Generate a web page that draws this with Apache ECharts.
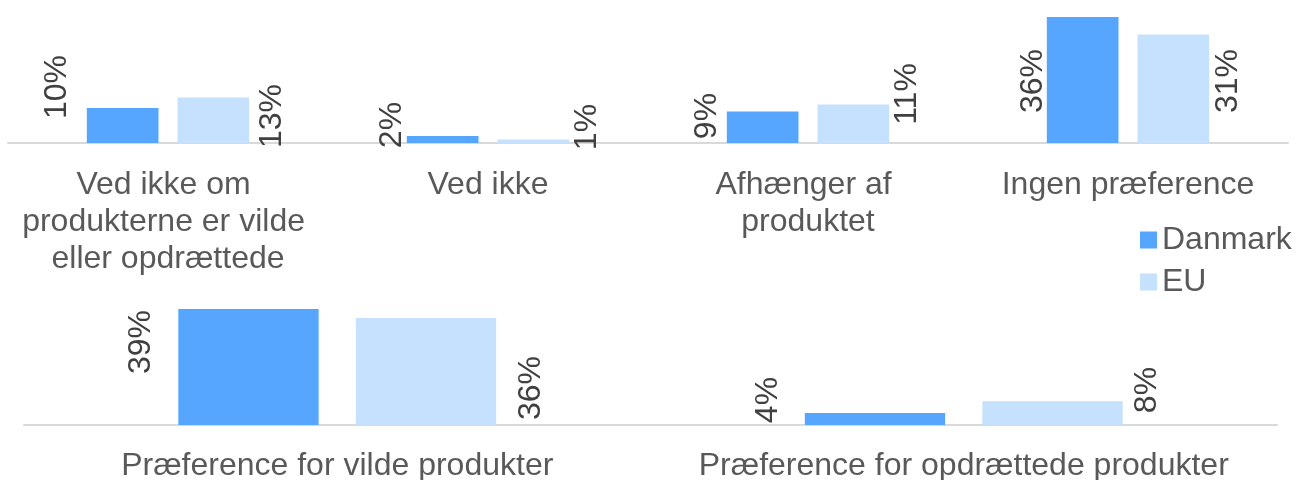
<!DOCTYPE html>
<html>
<head>
<meta charset="utf-8">
<script src="https://cdn.jsdelivr.net/npm/echarts@6/dist/echarts.min.js"></script>
<style>
html,body{margin:0;padding:0;background:#fff;}
#chart{width:1296px;height:480px;}
</style>
</head>
<body>
<div id="chart"></div>
<script>
// ---- data ----
const seriesNames = ['Danmark', 'EU'];
const topCategories = ['Ved ikke om produkterne er vilde eller opdrættede', 'Ved ikke', 'Afhænger af produktet', 'Ingen præference'];
const topDanmark = [10, 2, 9, 36];
const topEU = [13, 1, 11, 31];
const bottomCategories = ['Præference for vilde produkter', 'Præference for opdrættede produkter'];
const bottomDanmark = [39, 4];
const bottomEU = [36, 8];

// ---- styling (label placement, px) ----
const FONT = '"Liberation Sans", Arial, sans-serif';
const colDK = '#56A6FF';
const colEU = '#C5E1FD';
const topPPU = 140 / 40, botPPU = 119 / 40;
const lblTopDK = {dx: [-30, -15, -20, -14], lift: [56, 18, 27, 62]};
const lblTopEU = {dx: [95, 90, 90, 91], lift: [27, 16, 49, 62]};
const lblBotDK = {dx: [-37.5, -36.5], lift: [83, 25]};
const lblBotEU = {dx: [175.5, 164.5], lift: [37, 35]};

function items(values, ppu, lbl) {
  return values.map((v, i) => ({
    value: v,
    label: {
      position: [lbl.dx[i], v * ppu - lbl.lift[i]]
    }
  }));
}

const labelBase = {
  show: true,
  rotate: 90,
  align: 'center',
  verticalAlign: 'middle',
  fontSize: 32,
  fontFamily: FONT,
  color: '#404040',
  formatter: '{c}%'
};

const chart = echarts.init(document.getElementById('chart'), null, {renderer: 'canvas'});
const option = {
  animation: false,
  backgroundColor: '#fff',
  legend: {
    data: seriesNames,
    orient: 'vertical',
    left: 1140,
    top: 224,
    padding: 0,
    itemWidth: 17,
    itemHeight: 17,
    itemGap: 10,
    icon: 'rect',
    textStyle: {fontSize: 32, fontFamily: FONT, color: '#595959', lineHeight: 32}
  },
  grid: [
    {left: 8, right: 8, top: 3, height: 140, containLabel: false, outerBoundsMode: 'none'},
    {left: 24, right: 19, top: 306, height: 119, containLabel: false, outerBoundsMode: 'none'}
  ],
  xAxis: [
    {
      type: 'category', gridIndex: 0, data: topCategories,
      axisLine: {lineStyle: {color: '#D9D9D9', width: 2}},
      axisTick: {show: false},
      axisLabel: {fontSize: 32, fontFamily: FONT, color: '#595959', margin: 24, lineHeight: 37,
        width: 300, overflow: 'break', interval: 0}
    },
    {
      type: 'category', gridIndex: 1, data: bottomCategories,
      axisLine: {lineStyle: {color: '#D9D9D9', width: 2}},
      axisTick: {show: false},
      axisLabel: {fontSize: 32, fontFamily: FONT, color: '#595959', margin: 23, lineHeight: 37, interval: 0}
    }
  ],
  yAxis: [
    {type: 'value', gridIndex: 0, min: 0, max: 40, show: false, splitLine: {show: false}},
    {type: 'value', gridIndex: 1, min: 0, max: 40, show: false, splitLine: {show: false}}
  ],
  series: [
    {name: 'Danmark', type: 'bar', xAxisIndex: 0, yAxisIndex: 0, data: items(topDanmark, topPPU, lblTopDK),
      barWidth: '22.4%', barGap: '26.5%', itemStyle: {color: colDK}, label: labelBase},
    {name: 'EU', type: 'bar', xAxisIndex: 0, yAxisIndex: 0, data: items(topEU, topPPU, lblTopEU),
      barWidth: '22.4%', barGap: '26.5%', itemStyle: {color: colEU}, label: labelBase},
    {name: 'Danmark', type: 'bar', xAxisIndex: 1, yAxisIndex: 1, data: items(bottomDanmark, botPPU, lblBotDK),
      barWidth: '22.4%', barGap: '26.5%', itemStyle: {color: colDK}, label: labelBase},
    {name: 'EU', type: 'bar', xAxisIndex: 1, yAxisIndex: 1, data: items(bottomEU, botPPU, lblBotEU),
      barWidth: '22.4%', barGap: '26.5%', itemStyle: {color: colEU}, label: labelBase}
  ]
};
chart.setOption(option);
</script>
</body>
</html>
